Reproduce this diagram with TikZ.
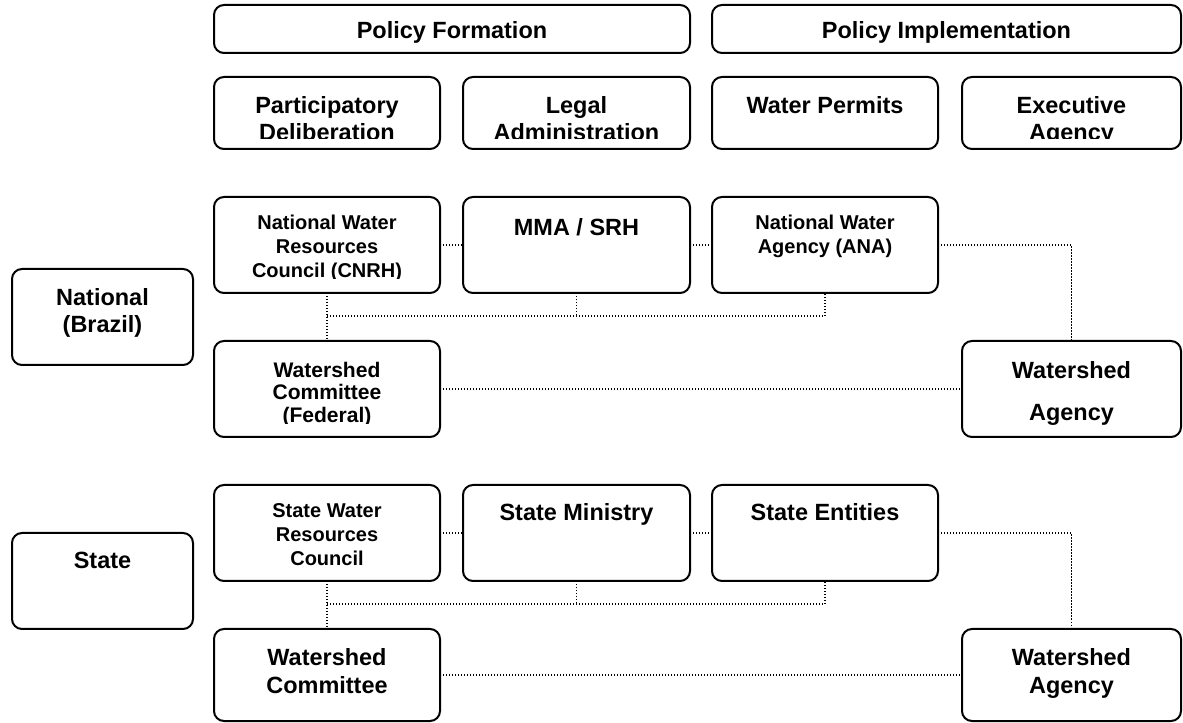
\documentclass[tikz,border=0pt]{standalone}
\usepackage{fontspec}
\setmainfont{Liberation Sans}
% box given by its corners (x1,y1) and (x2,y2), in pixel units
\newcommand\mkbox[5]{%
  \node[orgbox, minimum width={(#4-#2)*0.75pt}, minimum height={(#5-#3)*0.75pt}]
    (#1) at ({(#2+#4)/2},{(#3+#5)/2}) {};}
\begin{document}
\begin{tikzpicture}[x=0.75pt,y=-0.75pt,
  orgbox/.style={draw=black, line width=1.5pt, rounded corners=7.5pt, inner sep=0pt, outer sep=0pt, fill=white},
  bigtxt/.style={font=\bfseries\fontsize{17.6}{20.5}\selectfont, align=center, inner sep=0pt, anchor=north},
  midtxt/.style={font=\bfseries\fontsize{15}{18}\selectfont, align=center, inner sep=0pt, anchor=north},
  fedtxt/.style={font=\bfseries\fontsize{15.8}{16.8}\selectfont, align=center, inner sep=0pt, anchor=north},
  link/.style={draw=black, line width=1pt, dash pattern=on 1pt off 1.25pt}]
\useasboundingbox (0,0) rectangle (1183,723);

% bus levels under the upper rows
\coordinate (nbus) at (0,316);
\coordinate (sbus) at (0,604);

% boxes
\mkbox{pf}{214}{5}{690}{53}
\mkbox{pi}{712}{5}{1181}{53}
\mkbox{pd}{214}{77}{440}{149}
\mkbox{la}{463}{77}{690}{149}
\mkbox{wp}{712}{77}{938}{149}
\mkbox{ea}{962}{77}{1181}{149}

\mkbox{cnrh}{214}{197}{440}{293}
\mkbox{mma}{463}{197}{690}{293}
\mkbox{ana}{712}{197}{938}{293}
\mkbox{nat}{12}{269}{193}{365}
\mkbox{wcf}{214}{341}{440}{437}
\mkbox{wag}{962}{341}{1181}{437}

\mkbox{swrc}{214}{485}{440}{581}
\mkbox{smin}{463}{485}{690}{581}
\mkbox{sent}{712}{485}{938}{581}
\mkbox{st}{12}{533}{193}{629}
\mkbox{wc}{214}{629}{440}{721}
\mkbox{wa}{962}{629}{1181}{721}

% national level links
\draw[link] (cnrh.east) -- (mma.west);
\draw[link] (mma.east) -- (ana.west);
\draw[link] (ana.east) -| (wag.north);
\draw[link] (cnrh.south) -- (wcf.north);
\draw[link] (cnrh.south |- nbus) -- (ana.south |- nbus) -- (ana.south);
\draw[link] (mma.south) -- (mma.south |- nbus);
\draw[link] (wcf.east) -- (wag.west);

% state level links
\draw[link] (swrc.east) -- (smin.west);
\draw[link] (smin.east) -- (sent.west);
\draw[link] (sent.east) -| (wa.north);
\draw[link] (swrc.south) -- (wc.north);
\draw[link] (swrc.south |- sbus) -- (sent.south |- sbus) -- (sent.south);
\draw[link] (smin.south) -- (smin.south |- sbus);
\draw[link] (wc.east) -- (wa.west);

% ---------- texts ----------
\node[bigtxt] (pf-t) at (452,21) {Policy Formation};
\node[bigtxt] (pi-t) at (946.5,21) {Policy Implementation};

\begin{scope}
  \clip (214,77) rectangle (1181,138.5);
  \node[bigtxt] (pd-t) at (327,96) {Participatory\\Deliberation};
  \node[bigtxt] (la-t) at (576.5,96) {Legal\\Administration};
  \node[bigtxt] (wp-t) at (825,96) {Water Permits};
  \node[bigtxt] (ea-t) at (1071.5,96) {Executive\\Agency};
\end{scope}

\begin{scope}
  \clip (214,197) rectangle (440,279);
  \node[midtxt] (cnrh-t) at (327,215) {National Water\\Resources\\Council (CNRH)};
\end{scope}
\node[bigtxt] (mma-t) at (576.5,218.5) {MMA / SRH};
\node[midtxt] (ana-t) at (825,215) {National Water\\Agency (ANA)};
\node[bigtxt] (nat-t) at (102.5,288) {National\\(Brazil)};
\begin{scope}
  \clip (214,341) rectangle (440,423.5);
  \node[fedtxt] (wcf-t) at (327,362) {Watershed\\Committee\\(Federal)};
\end{scope}
\node[bigtxt] (wag-t) at (1071.5,361) {Watershed\\[11pt]Agency};

\node[midtxt] (swrc-t) at (327,503) {State Water\\Resources\\Council};
\node[bigtxt] (smin-t) at (576.5,503.5) {State Ministry};
\node[bigtxt] (sent-t) at (825,503.5) {State Entities};
\node[bigtxt] (st-t) at (102.5,551.5) {State};
\node[bigtxt] (wc-t) at (327,648.5) {Watershed\\Committee};
\node[bigtxt] (wa-t) at (1071.5,648.5) {Watershed\\Agency};
\end{tikzpicture}
\end{document}
